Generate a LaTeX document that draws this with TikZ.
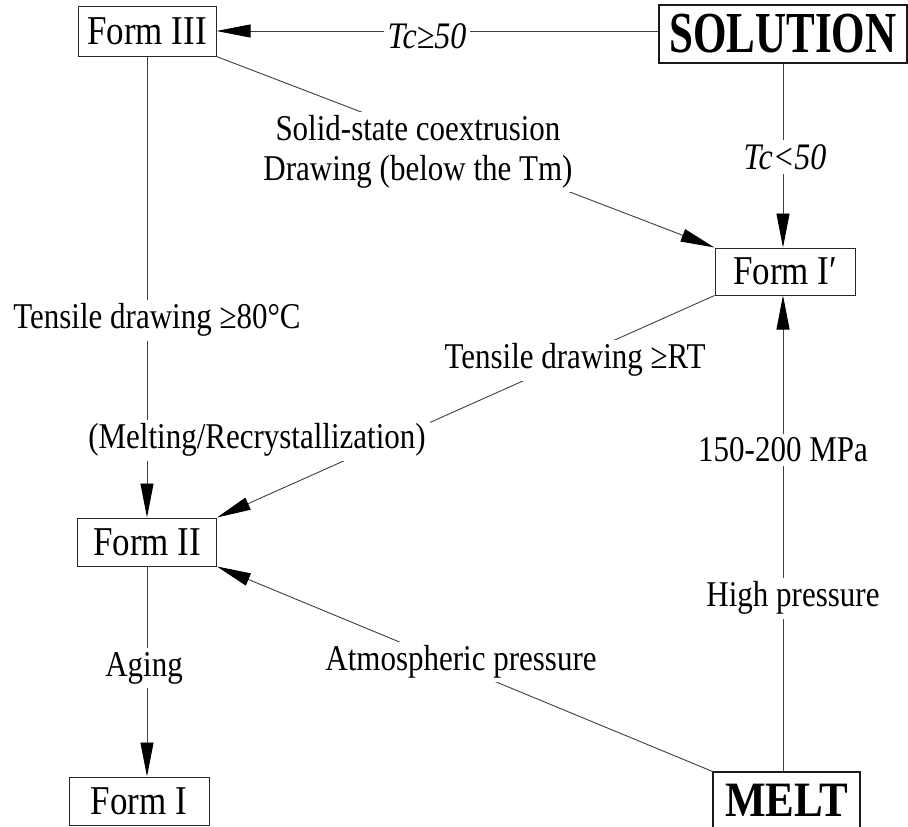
\documentclass[tikz,border=0pt]{standalone}
\usepackage{fontspec}
\setmainfont{Liberation Serif}
\usetikzlibrary{arrows.meta}
\newcommand\vs[2][1.17]{\scalebox{1}[#1]{#2}}
\begin{document}
\begin{tikzpicture}[x=1pt,y=-1pt,
  box/.style={draw=black!85, line width=1pt, inner sep=0pt, font=\fontsize{35}{40}\selectfont},
  big/.style={draw=black!90, line width=1.2pt, inner sep=0pt, font=\fontsize{43}{48}\selectfont\bfseries},
  lab/.style={fill=white, inner sep=4pt, font=\fontsize{31}{40}\selectfont},
  itlab/.style={lab, font=\fontsize{32}{40}\selectfont\itshape},
  conn/.style={draw=black!75, line width=0.9pt},
  arr/.style={conn, -{Triangle[length=34pt,width=13pt,color=black]}}
]
\clip (0,0) rectangle (908,827);
\fill[white] (0,0) rectangle (908,827);

% nodes
\node[box, minimum width=138pt, minimum height=50pt] (f3) at (147,31) {\vs{Form III}};
\node[big, minimum width=248pt, minimum height=58pt] (sol) at (783,34) {\vs[1.35]{SOLUTION}};
\node[box, minimum width=140pt, minimum height=47pt] (f1p) at (785,271.5) {\vs{Form I′}};
\node[box, minimum width=139pt, minimum height=48pt] (f2) at (147,542) {\vs{Form II}};
\node[box, minimum width=140pt, minimum height=48pt] (f1) at (139,801) {\vs{Form I}};
\node[big, minimum width=147pt, minimum height=64pt] (melt) at (786.5,804) {\raisebox{7pt}{\vs[1.15]{MELT}}};

% connectors
\draw[arr] (sol.west |- f3.east) -- (f3.east);
\draw[arr] (sol.south) -- (sol.south |- f1p.north);
\draw[arr] (f3.south) -- (f3.south |- f2.north);
\draw[arr] (f2.south -| f3.south) -- (f3.south |- f1.north);
\draw[arr] (f3.south east) -- (f1p.north west);
\draw[arr] (f1p.south west) -- (f2.north east);
\draw[arr] (melt.north west) -- (f2.south east);
\draw[arr] (melt.north -| sol.south) -- (sol.south |- f1p.south);

% labels
\node[itlab] (l1) at (427,36) {\vs{Tc≥50}};
\node[itlab] (l2) at (785,157) {\vs{Tc<50}};
\node[lab, align=center] (l3) at (418,152) {\vs{Solid-state coextrusion}\\\vs{Drawing (below the Tm)}};
\node[lab] (l4) at (157,320) {\vs{Tensile drawing ≥80°C}};
\node[lab] (l5) at (257,440) {\vs{(Melting/Recrystallization)}};
\node[lab] (l6) at (575,360) {\vs{Tensile drawing ≥RT}};
\node[lab] (l7) at (783,450) {\vs{150-200 MPa}};
\node[lab] (l8) at (793,598) {\vs{High pressure}};
\node[lab] (l9) at (461,662) {\vs{Atmospheric pressure}};
\node[lab] (l10) at (144,668) {\vs{Aging}};
\end{tikzpicture}
\end{document}
